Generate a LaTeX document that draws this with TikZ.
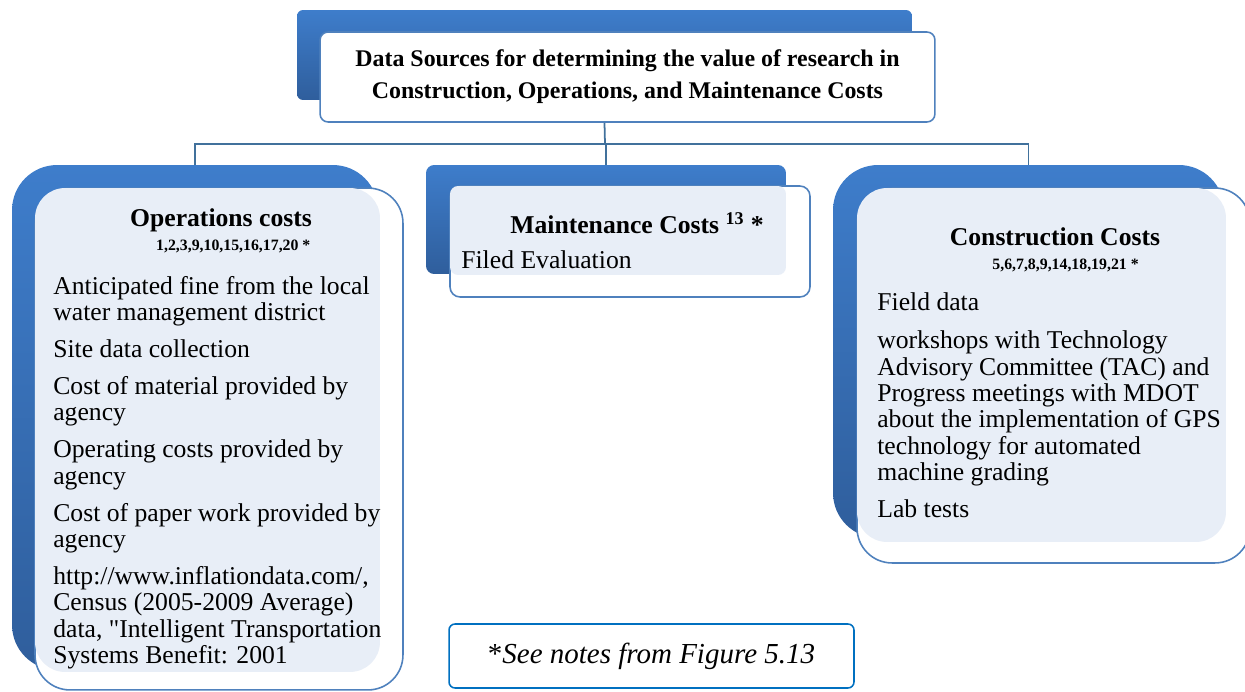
\documentclass[tikz,border=0pt]{standalone}
\usepackage{fontspec}
\setmainfont{Liberation Serif}
\definecolor{backtop}{HTML}{3E7DCB}
\definecolor{backbot}{HTML}{2F5E9C}
\definecolor{rimblue}{HTML}{4F81BD}
\definecolor{paleblue}{HTML}{E8EEF7}
\definecolor{linkblue}{HTML}{41719C}
\definecolor{noteblue}{HTML}{0070C0}
\newcommand{\straightquote}{{\XeTeXglyph\XeTeXcharglyph"22\relax}}

\begin{document}
\begin{tikzpicture}[x=0.02cm, y=-0.02cm]

\tikzstyle{back}=[rectangle, top color=backtop, bottom color=backbot, draw=none, inner sep=0]
\tikzstyle{rim}=[rectangle, fill=white, draw=rimblue, line width=0.9pt, inner sep=0, align=center]
\tikzstyle{pane}=[rectangle, fill=paleblue, inner sep=0]
\tikzstyle{edge}=[draw=linkblue, line width=1pt]
\tikzstyle{head}=[font=\bfseries\fontsize{14.6}{15}\selectfont, inner sep=0, align=center]
\tikzstyle{items}=[font=\fontsize{14.6}{15}\selectfont, align=left, anchor=north west, inner sep=0]

\useasboundingbox (0, 0) rectangle (1245, 692);

\node [back, rounded corners=0.12cm, minimum width=12.3cm, minimum height=1.8cm] (titleback) at (604.5, 55) {};
\node [rim, rounded corners=0.16cm, minimum width=12.3cm, minimum height=1.8cm] (titlefront) at (627.5, 77) {};
\node [head, font=\bfseries\fontsize{13.6}{18.1}\selectfont] (title) at (627.5, 77)
  {Data Sources for determining the value of research in\\Construction, Operations, and Maintenance Costs};

\node [back, rounded corners=0.9cm, minimum width=7.32cm, minimum height=10.1cm] (opsback) at (195, 417.5) {};
\node [rim, rounded corners=0.7cm, minimum width=7.36cm, minimum height=10.04cm] (opsfront) at (219, 439) {};
\node [pane, rounded corners=0.6cm, minimum width=6.9cm, minimum height=9.68cm] (opspane) at (207.5, 430) {};
\node [head] (opshead) at (221, 231)
  {Operations costs\\[-1pt]{\fontsize{9}{10}\selectfont\hspace*{14pt}1,2,3,9,10,15,16,17,20 *}};
\node [items] (opslist) at (53, 276)
  {Anticipated fine from the local\\water management district\\[6pt]
   Site data collection\\[6pt]
   Cost of material provided by\\agency\\[6pt]
   Operating costs provided by\\agency\\[6pt]
   Cost of paper work provided by\\agency\\[6pt]
   http://www.inflationdata.com/,\\Census (2005-2009 Average)\\data, \straightquote Intelligent Transportation\\Systems Benefit: 2001};

\node [back, rounded corners=0.16cm, minimum width=7.2cm, minimum height=2.18cm] (maintback) at (606, 219.5) {};
\node [rim, rounded corners=0.2cm, minimum width=7.2cm, minimum height=2.22cm] (maintfront) at (630, 241.5) {};
\node [pane, rounded corners=0.16cm, minimum width=6.72cm, minimum height=1.78cm] (maintpane) at (618, 230.5) {};
\node [head] (mainthead) at (637, 223) {Maintenance Costs \textsuperscript{13} *};
\node [items] (maintlist) at (461, 250) {Filed Evaluation};

\node [back, rounded corners=0.9cm, minimum width=7.82cm, minimum height=7.46cm] (constback) at (1028.5, 351.5) {};
\node [rim, rounded corners=0.7cm, minimum width=7.86cm, minimum height=7.5cm] (constfront) at (1053.5, 375.5) {};
\node [pane, rounded corners=0.6cm, minimum width=7.38cm, minimum height=7.08cm] (constpane) at (1041.5, 365) {};
\node [head] (consthead) at (1055, 250)
  {Construction Costs\\[-1pt]{\fontsize{9}{10}\selectfont\hspace*{12pt}5,6,7,8,9,14,18,19,21 *}};
\node [items] (constlist) at (877, 292)
  {Field data\\[7pt]
   workshops with Technology\\Advisory Committee (TAC) and\\Progress meetings with MDOT\\about the implementation of GPS\\technology for automated\\machine grading\\[6pt]
   Lab tests};

\node [rim, draw=noteblue, rounded corners=0.12cm, minimum width=8.1cm, minimum height=1.28cm] (note) at (651.5, 656)
  {\fontsize{16.5}{18}\selectfont *\textit{See notes from Figure 5.13}};

\coordinate (split) at (605, 144);

\path [edge] (titleback.south |- titlefront.south) -- (split);
\path [edge] (split) -| (opsback.north);
\path [edge] (split) -| (maintback.north);
\path [edge] (split) -| (constback.north);

\end{tikzpicture}
\end{document}
